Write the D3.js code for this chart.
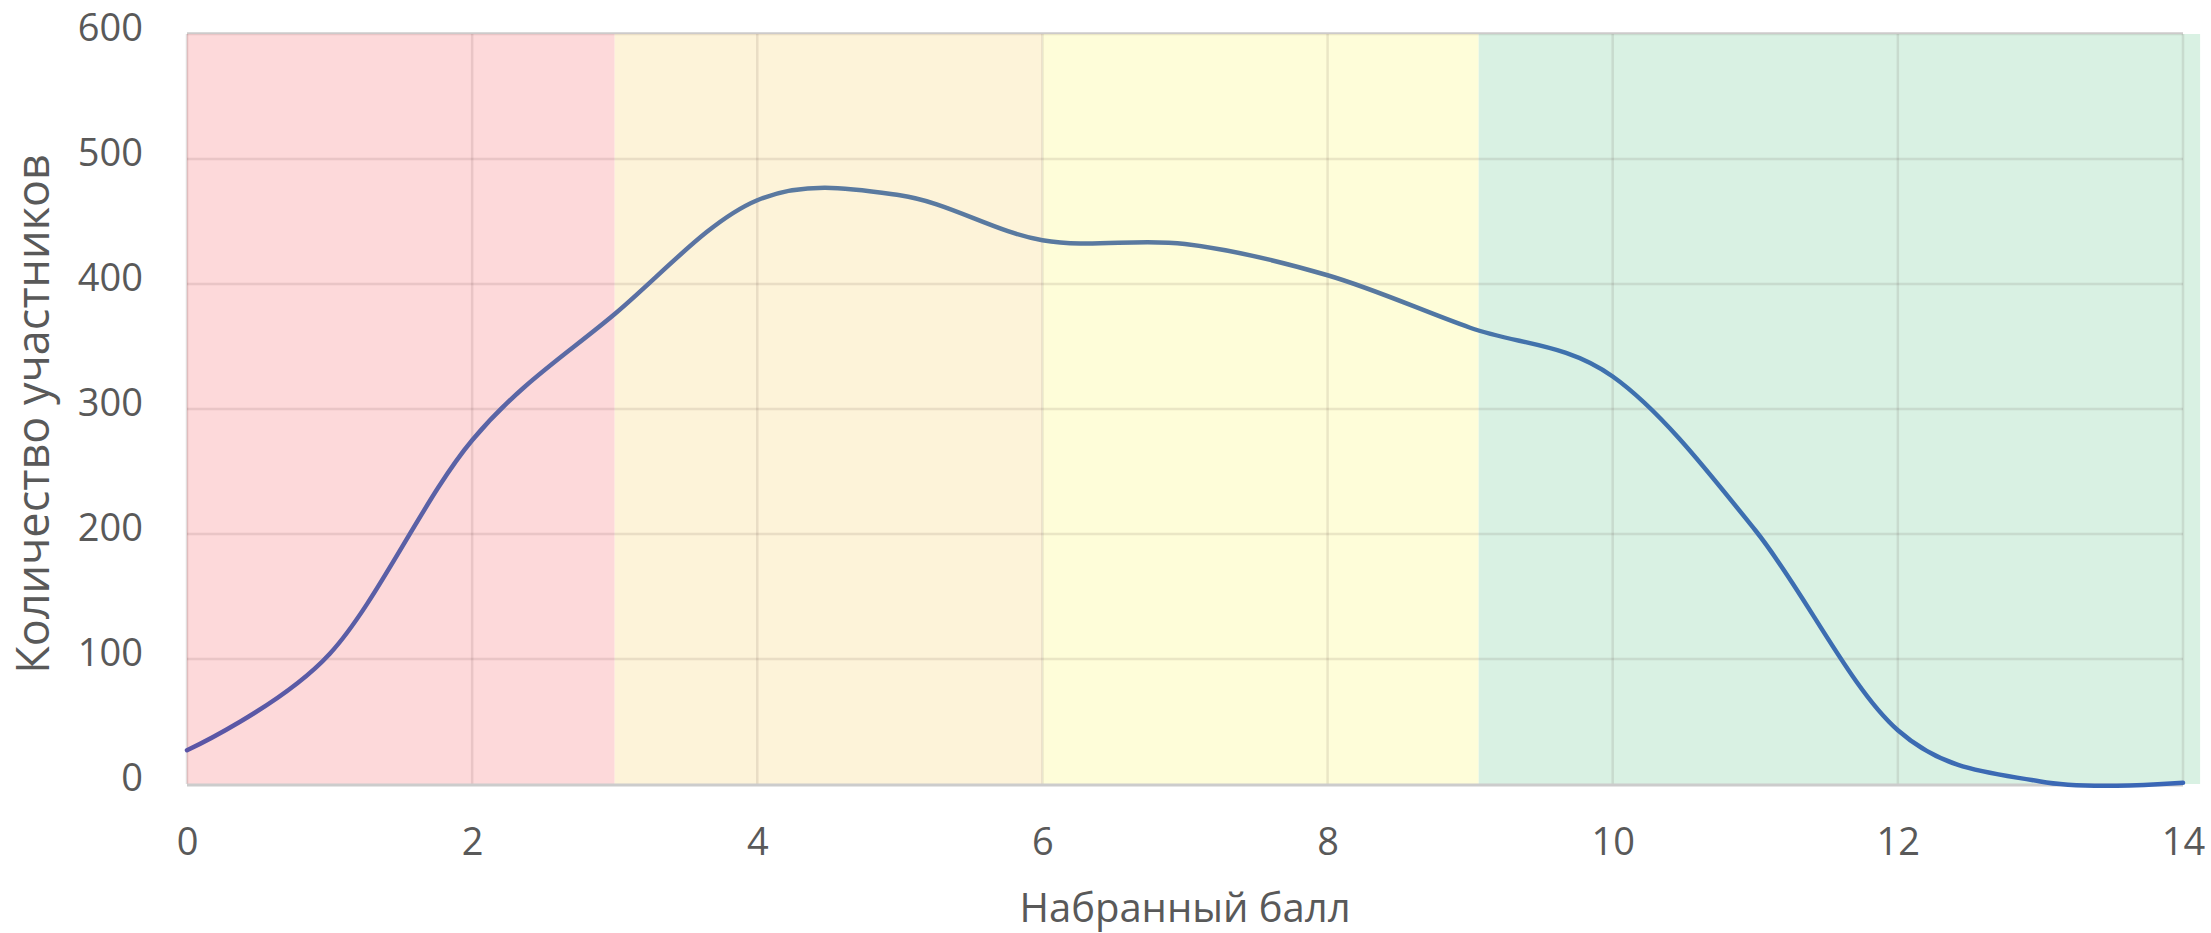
<!DOCTYPE html>
<html>
<head>
<meta charset="utf-8">
<script src="https://cdn.jsdelivr.net/npm/d3@7"></script>
<style>
    body { margin: 0; background: #fff; }
    svg text { font-family: "Open Sans", sans-serif; fill: #595959; }
</style>
</head>
<body>
<svg width="2211" height="933"></svg>
<script>
// score 0..14 and number of participants
var scores = [0, 1, 2, 3, 4, 5, 6, 7, 8, 9, 10, 11, 12, 13, 14];
var counts = [27, 104, 275, 376, 467, 471, 435, 432, 407, 365, 326, 203, 43, 2, 1];

// coloured zones behind the curve
var zone_from = [0, 3, 6, 9.06];
var zone_to = [3, 6, 9.06, 14.12];
var zone_colors = ["#fdd9da", "#fdf3d9", "#fefdd9", "#d9f1e3"];

var x_ticks = [0, 2, 4, 6, 8, 10, 12, 14];
var y_ticks = [0, 100, 200, 300, 400, 500, 600];

var x_label = "Набранный балл";
var y_label = "Количество участников";

function setup_svg() {
    var svg = d3.select("svg"),
        margin = { top: 34, right: 28, bottom: 149, left: 187 },
        width = svg.attr("width") - margin.left - margin.right,
        height = svg.attr("height") - margin.top - margin.bottom,
        g = svg.append("g").attr("transform", "translate(" + margin.left + "," + margin.top + ")");
    return { width, height, g, svg, margin };
}

var { width, height, g, svg, margin } = setup_svg();

var x_scale = d3.scaleLinear().domain([0, 14]).range([0, width]);
var y_scale = d3.scaleLinear().domain([0, 600]).range([height, 0]);

// zones
g.selectAll(".zone")
    .data(zone_from)
    .enter().append("rect")
    .attr("class", "zone")
    .attr("x", function (d) { return x_scale(d); })
    .attr("y", 0)
    .attr("width", function (d, i) { return x_scale(zone_to[i]) - x_scale(d); })
    .attr("height", height)
    .attr("fill", function (d, i) { return zone_colors[i]; });

// top border
g.append("line")
    .attr("x1", 0).attr("x2", width)
    .attr("y1", -1).attr("y2", -1)
    .attr("stroke", "#dedede")
    .attr("stroke-width", 2);

// grid
g.selectAll(".hgrid")
    .data(y_ticks.filter(function (d) { return d > 0; }))
    .enter().append("line")
    .attr("x1", 0).attr("x2", width)
    .attr("y1", function (d) { return y_scale(d); })
    .attr("y2", function (d) { return y_scale(d); })
    .attr("stroke", "rgba(60,30,30,0.1)")
    .attr("stroke-width", 2.5);

g.selectAll(".vgrid")
    .data(x_ticks)
    .enter().append("line")
    .attr("x1", function (d) { return x_scale(d); })
    .attr("x2", function (d) { return x_scale(d); })
    .attr("y1", 0).attr("y2", height)
    .attr("stroke", function (d) { return d == 0 ? "rgba(60,30,30,0.15)" : "rgba(60,30,30,0.1)"; })
    .attr("stroke-width", 2.5);

// x axis line
g.append("line")
    .attr("x1", 0).attr("x2", width)
    .attr("y1", height + 1).attr("y2", height + 1)
    .attr("stroke", "#cccccc")
    .attr("stroke-width", 3);

// axes (labels only)
var x_axis = g.append("g")
    .attr("transform", "translate(0," + height + ")")
    .call(d3.axisBottom(x_scale).tickValues(x_ticks).tickSize(0).tickPadding(44));
var y_axis = g.append("g")
    .call(d3.axisLeft(y_scale).tickValues(y_ticks).tickSize(0).tickPadding(44));

[x_axis, y_axis].forEach(function (a) {
    a.select(".domain").remove();
    a.selectAll("text")
        .attr("font-family", null)
        .style("font-size", "38px")
        .style("fill", "#595959");
});
y_axis.selectAll("text").attr("dy", "0.18em");

// axis titles
g.append("text")
    .attr("x", width / 2)
    .attr("y", height + 138)
    .attr("text-anchor", "middle")
    .style("font-size", "40px")
    .text(x_label);

g.append("text")
    .attr("transform", "rotate(-90)")
    .attr("x", -(height / 2) - 5)
    .attr("y", -138)
    .attr("text-anchor", "middle")
    .style("font-size", "45px")
    .text(y_label);

// line colour goes from purple to blue
var grad = svg.append("defs").append("linearGradient")
    .attr("id", "line_grad")
    .attr("gradientUnits", "userSpaceOnUse")
    .attr("x1", x_scale(0)).attr("x2", x_scale(14))
    .attr("y1", 0).attr("y2", 0);
var stops = [[0, "#5a55a6"], [0.15, "#5a64a6"], [0.3, "#5a7aa0"], [0.6, "#58789f"], [0.68, "#3f72ad"], [1, "#3a66b6"]];
grad.selectAll("stop")
    .data(stops)
    .enter().append("stop")
    .attr("offset", function (d) { return d[0]; })
    .attr("stop-color", function (d) { return d[1]; });

var line = d3.line()
    .x(function (d, i) { return x_scale(scores[i]); })
    .y(function (d) { return y_scale(d); })
    .curve(d3.curveCardinal.tension(0));

g.append("path")
    .datum(counts)
    .attr("fill", "none")
    .attr("stroke", "url(#line_grad)")
    .attr("stroke-width", 4.5)
    .attr("stroke-linecap", "round")
    .attr("d", line);
</script>
</body>
</html>
